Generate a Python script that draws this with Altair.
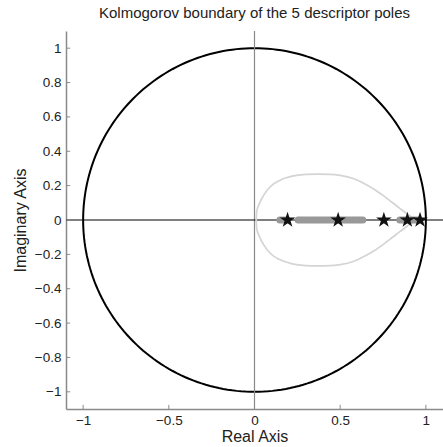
import altair as alt
import numpy as np
import pandas as pd

# ---------------- data ----------------
title_text = "Kolmogorov boundary of the 5 descriptor poles"
x_title = "Real Axis"
y_title = "Imaginary Axis"
x_ticks = [-1, -0.5, 0, 0.5, 1]
y_ticks = [-1, -0.8, -0.6, -0.4, -0.2, 0, 0.2, 0.4, 0.6, 0.8, 1]

# descriptor poles (stars, on the real axis)
star_x = [0.193, 0.488, 0.755, 0.892, 0.966]

# gray poles (dots, on the real axis)
dot_x = [0.148, 0.163, 0.178, 0.19,
         0.255, 0.268, 0.281, 0.294, 0.307, 0.320, 0.333, 0.346, 0.359,
         0.372, 0.385, 0.398, 0.411, 0.424, 0.437, 0.450, 0.463, 0.476,
         0.489, 0.502, 0.515, 0.528, 0.541, 0.554, 0.567, 0.580, 0.593,
         0.606, 0.619, 0.632,
         0.848, 0.862, 0.876, 0.890, 0.904, 0.918, 0.932, 0.946, 0.960]

# Kolmogorov boundary, upper half (lower half is its mirror image)
bnd_x = [0.010, 0.013, 0.025, 0.054, 0.093, 0.150, 0.220, 0.300, 0.370,
         0.440, 0.500, 0.580, 0.650, 0.700, 0.750, 0.800, 0.850, 0.890,
         0.930, 0.955]
bnd_y = [0.000, 0.050, 0.087, 0.145, 0.195, 0.232, 0.255, 0.265, 0.267,
         0.266, 0.260, 0.240, 0.207, 0.178, 0.143, 0.105, 0.066, 0.036,
         0.010, 0.000]

# unit circle
theta = np.linspace(0, 2 * np.pi, 241)
circ = pd.DataFrame({"x": np.cos(theta), "y": np.sin(theta), "o": np.arange(len(theta))})

bx = bnd_x + bnd_x[::-1]
by = bnd_y + [-v for v in bnd_y[::-1]]
bnd = pd.DataFrame({"x": bx, "y": by, "o": list(range(len(bx)))})

stars = pd.DataFrame({"x": star_x, "y": [0.0] * len(star_x)})
dots = pd.DataFrame({"x": dot_x, "y": [0.0] * len(dot_x)})

LO, HI = -1.1, 1.1
TL = 0.024  # inward tick length in data units

xt = pd.DataFrame({"x": x_ticks, "y": [LO] * len(x_ticks), "y2": [LO + TL] * len(x_ticks)})
yt = pd.DataFrame({"y": y_ticks, "x": [LO] * len(y_ticks), "x2": [LO + TL] * len(y_ticks)})

STAR_PATH = ("M0,-1L0.2245,-0.309L0.951,-0.309L0.3633,0.118L0.5878,0.809L0,0.382"
             "L-0.5878,0.809L-0.3633,0.118L-0.951,-0.309L-0.2245,-0.309Z")

# ---------------- chart ----------------
xs = alt.Scale(domain=[LO, HI], nice=False, zero=False)
ys = alt.Scale(domain=[LO, HI], nice=False, zero=False)
xaxis = alt.Axis(values=x_ticks, format=".1~f", title=x_title, orient="bottom")
yaxis = alt.Axis(values=y_ticks, format=".1~f", title=y_title, orient="left")

X = alt.X("x:Q", scale=xs, axis=xaxis)
Y = alt.Y("y:Q", scale=ys, axis=yaxis)

AXIS_GRAY = "#8a8a8a"

circle = alt.Chart(circ).mark_line(color="black", strokeWidth=2).encode(x=X, y=Y, order="o:Q")

hline = alt.Chart(pd.DataFrame({"y": [0.0]})).mark_rule(color="black", strokeWidth=1).encode(y=Y)
vline = alt.Chart(pd.DataFrame({"x": [0.0]})).mark_rule(color=AXIS_GRAY, strokeWidth=1.2).encode(x=X)

xtick = alt.Chart(xt).mark_rule(color=AXIS_GRAY, strokeWidth=1).encode(x=X, y=Y, y2="y2:Q")
ytick = alt.Chart(yt).mark_rule(color=AXIS_GRAY, strokeWidth=1).encode(y=Y, x=X, x2="x2:Q")

boundary = alt.Chart(bnd).mark_line(color="#d4d4d4", strokeWidth=1.7, interpolate="monotone").encode(
    x=X, y=Y, order="o:Q")

dot_layer = alt.Chart(dots).mark_point(shape="circle", filled=True, color="#999999", opacity=1, size=50).encode(x=X, y=Y)
star_layer = alt.Chart(stars).mark_point(shape=STAR_PATH, filled=True, color="#111111", opacity=1, size=270).encode(x=X, y=Y)

chart = alt.layer(circle, vline, hline, xtick, ytick, boundary, dot_layer, star_layer).properties(
    width=377,
    height=378,
    title=alt.TitleParams(title_text, fontSize=15, fontWeight="normal", font="Liberation Sans",
                          color="#222222", offset=9, anchor="middle"),
    autosize=alt.AutoSizeParams(type="none"),
    padding={"left": 66, "top": 31, "right": 0, "bottom": 38},
).configure_view(stroke=None).configure_axis(
    grid=False,
    ticks=False,
    domainColor=AXIS_GRAY,
    domainWidth=1.5,
    labelFont="Liberation Sans",
    labelFontSize=13.5,
    labelColor="#222222",
    labelPadding=5,
    titleFont="Liberation Sans",
    titleFontSize=16,
    titleFontWeight="normal",
    titleColor="#222222",
).configure_axisX(titlePadding=2, labelPadding=4).configure_axisY(titlePadding=6)

chart.save("out.html", embed_options={"renderer": "svg", "actions": False})
